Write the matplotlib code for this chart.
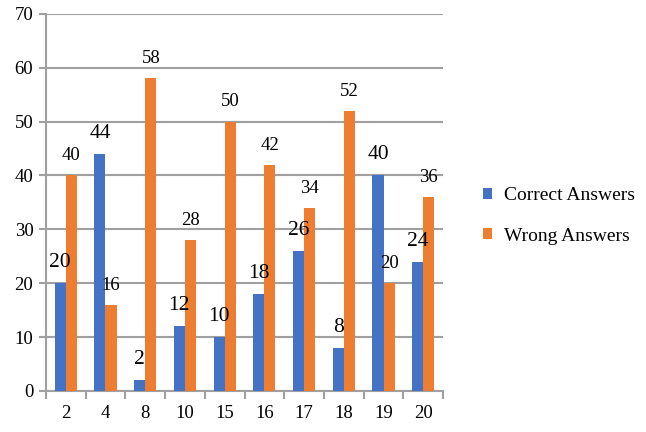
import matplotlib.pyplot as plt
import numpy as np

plt.rcParams['font.family'] = ['Liberation Serif', 'DejaVu Serif']

categories = ['2', '4', '8', '10', '15', '16', '17', '18', '19', '20']
correct = [20, 44, 2, 12, 10, 18, 26, 8, 40, 24]
wrong = [40, 16, 58, 28, 50, 42, 34, 52, 20, 36]

blue = '#4472C4'
orange = '#ED7D31'
gray = '#A0A0A0'

fig = plt.figure(figsize=(6.46, 4.32), dpi=100)
ax = fig.add_axes([0.071, 0.095, 0.615, 0.873])

x = np.arange(len(categories))
w = 0.28
b1 = ax.bar(x - w / 2, correct, w, color=blue, label='Correct Answers', zorder=3)
b2 = ax.bar(x + w / 2, wrong, w, color=orange, label='Wrong Answers', zorder=3)

for rect, v in zip(b1, correct):
    ax.annotate(str(v), (rect.get_x() + rect.get_width() / 2, v),
                xytext=(0, 8), textcoords='offset points',
                ha='center', va='bottom', fontsize=15.5)
for rect, v in zip(b2, wrong):
    ax.annotate(str(v), (rect.get_x() + rect.get_width() / 2, v),
                xytext=(0, 8), textcoords='offset points',
                ha='center', va='bottom', fontsize=13.5)

ax.set_xlim(-0.5, len(categories) - 0.5)
ax.set_ylim(0, 70)
ax.set_yticks(range(0, 71, 10))
ax.set_xticks(x)
ax.set_xticklabels(categories)
ax.set_xticks(np.arange(-0.5, len(categories)), minor=True)

ax.yaxis.grid(True, color=gray, linewidth=1.5, zorder=0)
ax.tick_params(axis='y', length=5, width=1.5, color=gray, labelsize=13.5, pad=4)
ax.tick_params(axis='x', which='major', length=0, labelsize=13.5, pad=10)
ax.tick_params(axis='x', which='minor', length=6, width=1.5, color=gray)

for side in ['top', 'right']:
    ax.spines[side].set_visible(False)
for side in ['left', 'bottom']:
    ax.spines[side].set_color(gray)
    ax.spines[side].set_linewidth(1.5)

fig.legend(handles=[b1, b2], loc='center left', bbox_to_anchor=(0.72, 0.5),
           frameon=False, fontsize=14, handlelength=0.5, handleheight=0.5,
           handletextpad=0.6, labelspacing=1.2)

fig.savefig('out.png', dpi=100)
